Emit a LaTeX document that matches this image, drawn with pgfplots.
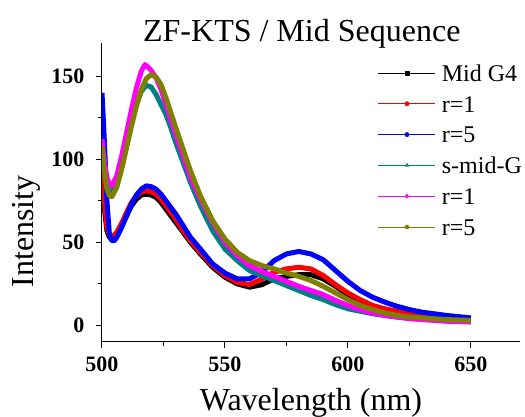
\documentclass[border=0pt]{standalone}
\usepackage{fontspec}
\setmainfont{Liberation Serif}
\usepackage{pgfplots}
\pgfplotsset{compat=1.18}
\usetikzlibrary{plotmarks}

\definecolor{cteal}{RGB}{0,128,128}
\definecolor{colive}{RGB}{128,128,0}
\definecolor{cmag}{RGB}{255,0,255}

% legend sample: thin line, one marker in the middle
\newcommand{\legline}[2]{%
  \draw[line width=0.8pt,#1] (0pt,0pt) -- (57pt,0pt);
  \draw[line width=0.4pt,#1] plot[mark=#2,mark size=2.2pt] coordinates {(28.5pt,0pt)};}
\newcommand{\lf}{\fontsize{24}{24}\selectfont}

\begin{document}
\begin{tikzpicture}
\begin{axis}[
    at={(0pt,0pt)}, anchor=south west,
    scale only axis,
    width=418pt, height=299pt,
    xmin=500, xmax=670,
    ymin=-10, ymax=170,
    axis lines*=left,
    axis line style={line width=1pt},
    tick align=outside,
    major tick length=6pt,
    minor tick length=4pt,
    tick style={line width=1pt, black},
    xtick={500,550,600,650},
    ytick={0,50,100,150},
    minor x tick num=1,
    minor y tick num=1,
    /pgf/number format/assume math mode=true,
    ticklabel style={font=\fontsize{22}{24}\selectfont\bfseries},
    yticklabel style={xshift=-8pt},
    xticklabel style={yshift=-5pt},
    title={ZF-KTS / Mid Sequence},
    title style={at={(axis description cs:0.478,1)}, anchor=base, yshift=-5pt,
                 font=\fontsize{32}{34}\selectfont},
    xlabel={Wavelength (nm)},
    xlabel style={yshift=-10pt, font=\fontsize{32}{34}\selectfont},
    ylabel={Intensity},
    ylabel style={at={(axis description cs:-0.182,0.37)}, anchor=center,
                  font=\fontsize{32}{34}\selectfont},
    legend cell align=left,
    legend style={at={(axis description cs:0.660,0.928)}, anchor=north west,
                  draw=none, fill=none, inner sep=0pt, row sep=14.3pt,
                  /tikz/every odd column/.append style={column sep=6pt},
                  nodes={font=\lf, text height=16.5pt, text depth=0pt, inner sep=0pt}},
    every axis plot/.append style={line width=5pt, line join=round, mark=none},
]
\addplot[black, legend image code/.code={\legline{black}{square*}}] coordinates {
(500,92) (501,70) (502,57) (503,53) (504,52.5) (506,55) (508,60) (510,66) (512,72)
(514,76) (516,78.5) (518,79) (520,78.5) (522,77) (524,74) (526,70) (528,66) (530,62)
(533,56) (536,50) (540,43) (545,35) (550,29) (555,25) (560,23) (565,24.5) (570,28)
(575,29.5) (580,30.5) (585,30.5) (590,28) (595,23.5) (600,18.5) (605,14.5) (610,11.5)
(615,9.5) (620,8) (625,6.5) (630,5.5) (640,4) (650,3.5)};
\addlegendentry{Mid G4}
\addplot[red, legend image code/.code={\legline{red}{*}}] coordinates {
(500,100) (501,75) (502,60) (503,54) (504,53) (506,56) (508,61.5) (510,68) (512,74)
(514,78) (516,80.5) (518,81) (520,80.5) (522,79) (524,76) (526,72) (528,68) (530,64)
(533,57) (536,51) (540,44) (545,36) (550,30) (555,26) (560,24.5) (565,28) (570,32)
(575,34) (580,35) (585,34) (590,30) (595,24.5) (600,19.5) (605,15.5) (610,12)
(615,10) (620,8.5) (625,7) (630,6) (640,4.5) (650,3.5)};
\addlegendentry{r=1}
\addplot[blue, legend image code/.code={\legline{blue}{*}}] coordinates {
(500,140) (501,110) (502,75) (503,55) (504,51) (505,51) (506,53) (508,59) (510,66)
(512,73) (514,78.5) (516,82) (518,84) (520,83.5) (522,82) (524,79) (526,75) (528,71)
(530,67) (533,60) (536,53) (540,46) (545,37) (550,31.5) (555,28) (560,28) (565,32)
(570,39) (575,43) (580,44.5) (585,43) (590,39.5) (595,33) (600,26.5) (605,21)
(610,17) (615,14) (620,11.5) (625,9.5) (630,8) (640,6) (650,4.5)};
\addlegendentry{r=5}
\addplot[cteal, legend image code/.code={\legline{cteal}{triangle*}}] coordinates {
(500,105) (501,93) (502,84) (503,80) (504,80) (506,86) (508,97) (510,110) (512,122)
(514,133) (516,141) (518,144.5) (520,143.5) (522,139) (524,133) (526,127) (528,119)
(530,110) (533,98) (536,86) (540,72) (545,57) (550,46) (555,39) (560,33) (565,30)
(570,27) (575,24) (580,21) (585,18) (590,15.5) (595,12.5) (600,10) (605,8.5)
(610,7) (615,6) (620,5) (625,4.5) (630,4) (640,3) (650,2.5)};
\addlegendentry{s-mid-G}
\addplot[cmag, legend image code/.code={\legline{cmag}{diamond*}}] coordinates {
(500,112) (501,98) (502,89) (503,85) (504,84) (506,90) (508,102) (510,116) (512,130)
(514,143) (516,153) (517.5,157) (519,155) (520,153.5) (522,149) (524,142) (526,133)
(528,124) (530,115) (533,102) (536,89) (540,76) (545,62) (550,50) (555,42) (560,36)
(565,32.5) (570,29.5) (575,26.5) (580,23.5) (585,21) (590,18.5) (595,15) (600,12)
(605,9.5) (610,7.5) (615,6) (620,5) (625,4) (630,3.5) (640,2.5) (650,2)};
\addlegendentry{r=1}
\addplot[colive, legend image code/.code={\legline{colive}{pentagon*}}] coordinates {
(500,108) (501,92) (502,82) (503,78) (504,77.5) (506,83) (508,94) (510,107) (512,120)
(514,132) (516,142) (518,148.5) (520,151) (522,149.5) (524,145) (526,137) (528,128)
(530,119) (533,106) (536,93) (540,78) (545,63) (550,52) (555,44) (560,39) (565,36)
(570,34) (575,31.5) (580,29.5) (585,27) (590,23.5) (595,19.5) (600,15.5) (605,12)
(610,9.5) (615,7.5) (620,6) (625,5) (630,4.5) (640,3.5) (650,3)};
\addlegendentry{r=5}
\end{axis}
\pgfresetboundingbox
\useasboundingbox (-102pt,-75pt) rectangle (423pt,342pt);
\end{tikzpicture}
\end{document}
